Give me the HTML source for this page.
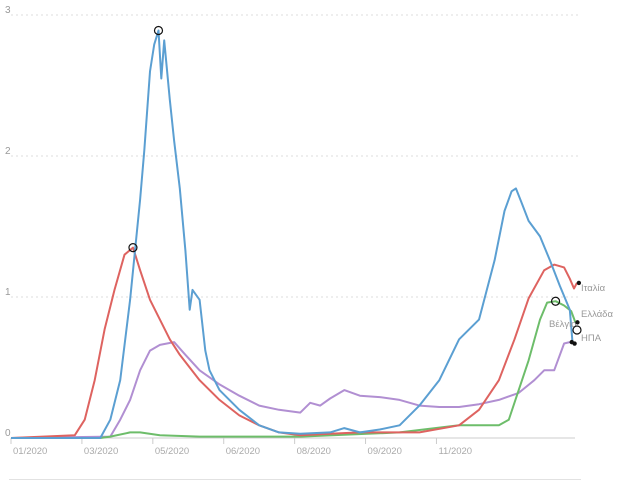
<!DOCTYPE html>
<html><head><meta charset="utf-8">
<style>
html,body{margin:0;padding:0;background:#fff;}
svg{display:block;font-family:"Liberation Sans","DejaVu Sans",sans-serif;}
</style></head>
<body>
<svg id="chart" width="631" height="481" viewBox="0 0 631 481"></svg>
<script>
const yTicks=[0,1,2,3];
const xTickDays=[0,50,100,150,200,250,300];
const xTickLabels=["01/2020","03/2020","05/2020","06/2020","08/2020","09/2020","11/2020"];
const seriesNames=["Βέλγιο","Ιταλία","Ελλάδα","ΗΠΑ"];
const seriesColors=["#5b9fd2","#de6360","#6dbd6a","#b18fd2"];
const belgiumDays=[0,63,70,77,84,91,94,98,101,104,106,108,112,115,119,123,126,128,133,137,140,147,161,175,189,204,225,235,246,260,274,288,302,316,330,341,348,353,356,360,365,373,380,387,394,396];
const belgiumVals=[0,0,0.13,0.41,0.98,1.69,2.04,2.6,2.79,2.89,2.55,2.82,2.4,2.11,1.77,1.33,0.91,1.05,0.98,0.62,0.48,0.34,0.2,0.09,0.04,0.03,0.04,0.07,0.04,0.06,0.09,0.23,0.41,0.7,0.84,1.26,1.61,1.75,1.77,1.67,1.54,1.43,1.26,1.08,0.91,0.67];
const italyDays=[0,45,52,59,66,73,80,86,91,98,105,112,119,133,147,161,175,189,204,225,246,260,288,316,330,344,355,365,376,383,390,394,397,399];
const italyVals=[0,0.02,0.13,0.41,0.77,1.05,1.3,1.35,1.19,0.98,0.84,0.7,0.59,0.41,0.27,0.16,0.09,0.04,0.02,0.03,0.04,0.04,0.04,0.09,0.2,0.41,0.7,0.99,1.19,1.23,1.21,1.13,1.06,1.1];
const greeceDays=[0,63,70,84,91,105,133,204,274,316,344,351,358,365,373,378,384,390,395,398];
const greeceVals=[0,0,0.01,0.04,0.04,0.02,0.01,0.01,0.04,0.09,0.09,0.13,0.34,0.55,0.84,0.96,0.97,0.94,0.9,0.82];
const usaDays=[0,70,77,84,91,98,105,115,123,133,147,161,175,189,204,211,218,225,235,246,260,274,288,302,316,330,344,358,369,376,383,390,394];
const usaVals=[0,0.01,0.13,0.27,0.48,0.62,0.66,0.68,0.59,0.48,0.38,0.3,0.23,0.2,0.18,0.25,0.23,0.28,0.34,0.3,0.29,0.27,0.23,0.22,0.22,0.24,0.27,0.32,0.41,0.48,0.48,0.67,0.68];

const NS="http://www.w3.org/2000/svg";
const svg=document.getElementById("chart");
const X0=11,X1=479,Y0=438,Y3=15;
function xs(d){return X0+d*(X1-X0)/330;}
function ys(v){return Y0-v*(Y0-Y3)/3;}
function mk(t,a){const e=document.createElementNS(NS,t);for(const k in a)e.setAttribute(k,a[k]);svg.appendChild(e);return e;}

yTicks.forEach((t,i)=>{
  if(t>0){
    const g=mk("line",{x1:X0,x2:581,y1:ys(t),y2:ys(t),stroke:"#ddd","stroke-dasharray":"2,3","stroke-width":1});
    
    
  }
  const tx=mk("text",{x:5,y:ys(t)-2,"font-size":10,fill:"#999"});
  tx.textContent=t;
  
  
});
const ax=mk("line",{x1:X0,x2:X1+96,y1:Y0,y2:Y0,stroke:"#ccc","stroke-width":1});


xTickDays.forEach((d,i)=>{
  const tk=mk("line",{x1:xs(d),x2:xs(d),y1:Y0,y2:Y0+6,stroke:"#ccc"});
  
  
  const tx=mk("text",{x:xs(d)+2,y:Y0+16,"font-size":9.5,fill:"#aaa"});
  tx.textContent=xTickLabels[i];
  
  
});
const bl=mk("line",{x1:9,x2:581,y1:479.5,y2:479.5,stroke:"#e2e2e2","stroke-width":1});



const allDays=[belgiumDays,italyDays,greeceDays,usaDays];
const allVals=[belgiumVals,italyVals,greeceVals,usaVals];
const drawOrder=[3,2,1,0];
drawOrder.forEach(i=>{
  const pts=allDays[i].map((d,j)=>xs(d).toFixed(1)+","+ys(allVals[i][j]).toFixed(1)).join(" ");
  const p=mk("polyline",{points:pts,fill:"none",stroke:seriesColors[i],"stroke-width":2,"stroke-linejoin":"round"});
  
  
});
// peak circles
[[belgiumDays,belgiumVals],[italyDays,italyVals]].forEach(([ds,vs])=>{
  let m=0;vs.forEach((v,j)=>{if(v>vs[m])m=j;});
  const c=mk("circle",{cx:xs(ds[m]),cy:ys(vs[m]),r:4,fill:"none",stroke:"#111","stroke-width":1.2});
  
  
});
{
  let m=0;greeceVals.forEach((v,j)=>{if(v>greeceVals[m])m=j;});
  const c=mk("circle",{cx:xs(greeceDays[m]),cy:ys(greeceVals[m]),r:4,fill:"none",stroke:"#111","stroke-width":1.2});
  
  
}
// end dots and labels
const labelY=[327,291,317,341];
const labelX=[549,581,581,581];
[0,1,2,3].forEach(i=>{
  const ds=allDays[i],vs=allVals[i];
  const ex=xs(ds[ds.length-1])+2,ey=ys(vs[vs.length-1]);
  const d=mk("circle",{cx:ex,cy:ey,r:2.2,fill:"#111"});
  
  
  const t=mk("text",{x:labelX[i],y:labelY[i],"font-size":9.5,fill:"#999"});
  t.textContent=seriesNames[i];
  
  
});
const ec=mk("circle",{cx:577,cy:330,r:4,fill:"none",stroke:"#111","stroke-width":1.2});


</script>
</body></html>
